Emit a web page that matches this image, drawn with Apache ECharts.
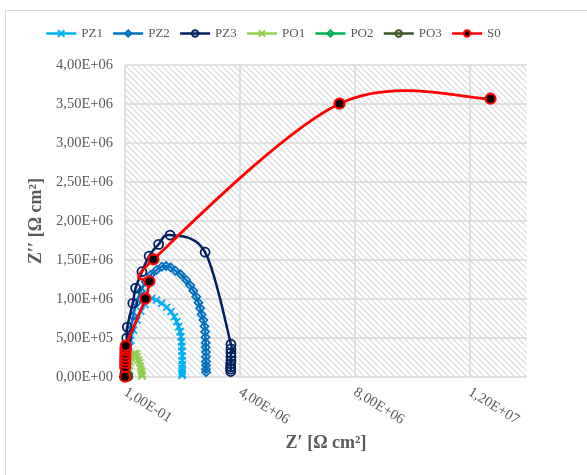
<!DOCTYPE html>
<html><head><meta charset="utf-8">
<script src="https://cdn.jsdelivr.net/npm/echarts@6/dist/echarts.min.js"></script>
<style>html,body{margin:0;padding:0;background:#fff}#c{width:587px;height:475px}</style>
</head><body><div id="c"></div>
<script>
// ---- data (values in Ω cm²) ----
const pz1X = [0.02,0.06,0.12,0.2,0.3,0.42,0.55,0.7,0.93,1.10,1.28,1.45,1.60,1.72,1.80,1.87,1.92,1.95,1.97,1.98,1.98,1.99,1.99,1.99,1.99,1.99,1.99,1.99].map(v=>v*1e6);
const pz1Y = [0.08,0.2,0.33,0.47,0.6,0.73,0.84,0.93,1.009,0.987,0.945,0.893,0.837,0.773,0.709,0.645,0.58,0.517,0.45,0.39,0.33,0.27,0.21,0.16,0.11,0.07,0.04,0.02].map(v=>v*1e6);
const pz2X = [0.02,0.05,0.1,0.18,0.28,0.4,0.55,0.72,0.9,1.10,1.28,1.43,1.59,1.75,1.94,2.13,2.27,2.38,2.48,2.56,2.62,2.67,2.73,2.77,2.79,2.80,2.81,2.81,2.82,2.82,2.82,2.82,2.82,2.82].map(v=>v*1e6);
const pz2Y = [0.1,0.25,0.42,0.6,0.78,0.95,1.1,1.22,1.31,1.372,1.414,1.423,1.406,1.363,1.317,1.244,1.175,1.107,1.03,0.953,0.88,0.80,0.73,0.65,0.58,0.51,0.44,0.38,0.32,0.26,0.2,0.15,0.1,0.06].map(v=>v*1e6);
const pz3X = [0.0,0.02,0.04,0.06,0.08,0.27,0.37,0.59,0.84,1.17,1.57,2.79,3.69,3.69,3.69,3.69,3.69,3.68,3.68,3.68,3.68].map(v=>v*1e6);
const pz3Y = [0.05,0.2,0.35,0.5,0.64,0.945,1.14,1.35,1.55,1.70,1.82,1.60,0.42,0.36,0.31,0.26,0.21,0.17,0.13,0.10,0.07].map(v=>v*1e6);
const po1X = [0.13,0.14,0.16,0.19,0.23,0.27,0.31,0.35,0.39,0.43,0.47,0.51,0.54,0.56,0.58,0.59,0.59,0.59].map(v=>v*1e6);
const po1Y = [0.02,0.08,0.14,0.19,0.24,0.28,0.30,0.30,0.29,0.26,0.22,0.18,0.14,0.10,0.07,0.04,0.02,0.01].map(v=>v*1e6);
const po2X = [0.01,0.02,0.04,0.06,0.08,0.09,0.1].map(v=>v*1e6);
const po2Y = [0.005,0.02,0.035,0.04,0.03,0.02,0.005].map(v=>v*1e6);
const po3X = [0.01,0.03,0.05,0.07,0.09,0.11,0.12].map(v=>v*1e6);
const po3Y = [0.005,0.02,0.03,0.035,0.03,0.015,0.005].map(v=>v*1e6);
const s0X = [0.0,0.005,0.008,0.01,0.012,0.015,0.018,0.02,0.025,0.71,0.85,0.99,7.47,12.73].map(v=>v*1e6);
const s0Y = [0.003,0.13,0.18,0.22,0.26,0.30,0.34,0.37,0.40,1.004,1.227,1.509,3.504,3.568].map(v=>v*1e6);

const seriesNames = ['PZ1','PZ2','PZ3','PO1','PO2','PO3','S0'];
const xTickValues = [0, 4e6, 8e6, 12e6];
const xTickLabels = ['1,00E-01','4,00E+06','8,00E+06','1,20E+07'];
const yTickValues = [0,5e5,1e6,1.5e6,2e6,2.5e6,3e6,3.5e6,4e6];
const yTickLabels = ['0,00E+00','5,00E+05','1,00E+06','1,50E+06','2,00E+06','2,50E+06','3,00E+06','3,50E+06','4,00E+06'];
const xTitle = 'Z\u2032 [\u03A9 cm\u00B2]';
const yTitle = 'Z\u2032\u2032 [\u03A9 cm\u00B2]';

const pairs = (xs, ys) => xs.map((x, i) => [x, ys[i]]);

// hatch pattern
const tile = document.createElement('canvas');
tile.width = 6; tile.height = 6;
const g = tile.getContext('2d');
g.fillStyle = '#ffffff'; g.fillRect(0,0,6,6);
g.strokeStyle = '#d9d9d9'; g.lineWidth = 1.2;
g.beginPath();
g.moveTo(-1,-1); g.lineTo(7,7);
g.moveTo(-1,5); g.lineTo(1,7);
g.moveTo(5,-1); g.lineTo(7,1);
g.stroke();

const FONT = '"Liberation Serif", "Times New Roman", serif';
const xSym = 'path://M0,0L10,10M10,0L0,10';

// markers (line hidden; curve drawn by custom series below)
function mk(name, xs, ys, color, symbol, size, z, item) {
  return {
    name, type: 'line', data: pairs(xs, ys),
    symbol, symbolSize: size, showAllSymbol: true,
    lineStyle: { color, width: 2.5, opacity: 0 },
    itemStyle: item || { color: 'rgba(0,0,0,0)', borderColor: color, borderWidth: 1.8 },
    emphasis: { disabled: true },
    z
  };
}
// smoothed curve (Catmull-Rom through axis coordinates)
function curve(name, xs, ys, color, width, z) {
  const data = pairs(xs, ys);
  return {
    name: name + ' curve', type: 'custom', data: [[0, 0]], z, silent: true, clip: true,
    renderItem: (params, api) => {
      const pts = data.map(d => api.coord(d));
      let path = 'M' + pts[0][0] + ' ' + pts[0][1];
      const n = pts.length;
      for (let i = 0; i < n - 1; i++) {
        const p0 = pts[Math.max(i - 1, 0)], p1 = pts[i], p2 = pts[i + 1], p3 = pts[Math.min(i + 2, n - 1)];
        const c1x = p1[0] + (p2[0] - p0[0]) / 6, c1y = p1[1] + (p2[1] - p0[1]) / 6;
        const c2x = p2[0] - (p3[0] - p1[0]) / 6, c2y = p2[1] - (p3[1] - p1[1]) / 6;
        path += ' C' + c1x + ' ' + c1y + ' ' + c2x + ' ' + c2y + ' ' + p2[0] + ' ' + p2[1];
      }
      return { type: 'path', shape: { pathData: path },
        style: { fill: 'none', stroke: color, lineWidth: width, lineJoin: 'round' } };
    }
  };
}

const defs = [
  ['PZ1', pz1X, pz1Y, '#00B0F0', xSym, 7],
  ['PZ2', pz2X, pz2Y, '#0070C0', 'diamond', 8],
  ['PZ3', pz3X, pz3Y, '#002060', 'circle', 9],
  ['PO1', po1X, po1Y, '#92D050', xSym, 7],
  ['PO2', po2X, po2Y, '#00B050', 'diamond', 8],
  ['PO3', po3X, po3Y, '#375623', 'circle', 8],
  ['S0', s0X, s0Y, '#FF0000', 'circle', 10]
];
const series = [];
defs.forEach((d, i) => {
  const isS0 = d[0] === 'S0';
  series.push(curve(d[0], d[1], d[2], d[3], isS0 ? 2.8 : 2.5, 2 + 2 * i));
  series.push(mk(d[0], d[1], d[2], d[3], d[4], d[5], 3 + 2 * i,
    isS0 ? { color: '#000000', borderColor: '#FF0000', borderWidth: 2.2 } : null));
});

const chart = echarts.init(document.getElementById('c'), null, { renderer: 'canvas' });
chart.setOption({
  animation: false,
  backgroundColor: '#ffffff',
  textStyle: { fontFamily: FONT },
  graphic: [{ type: 'rect', shape: { x: 5.5, y: 10.5, width: 600, height: 500 },
    style: { fill: 'none', stroke: '#d9d9d9', lineWidth: 1 }, silent: true, z: -10 }],
  legend: {
    left: 45, top: 27, padding: 0, itemWidth: 30, itemHeight: 8, itemGap: 9,
    textStyle: { fontFamily: FONT, fontSize: 13, color: '#595959' },
    data: defs.map(d => ({ name: d[0], lineStyle: { opacity: 1, width: 2.5, color: d[3] } }))
  },
  grid: { left: 125, right: 60, top: 65, bottom: 98, show: true,
    backgroundColor: { image: tile, repeat: 'repeat' }, borderWidth: 0 },
  xAxis: {
    type: 'value', min: 0, max: 14e6, interval: 4e6,
    name: xTitle, nameLocation: 'middle', nameGap: 52,
    nameTextStyle: { fontFamily: FONT, fontSize: 18, fontWeight: 'bold', color: '#595959' },
    axisLine: { show: false }, axisTick: { show: false },
    splitLine: { show: true, showMaxLine: false, lineStyle: { color: '#d9d9d9', width: 1.5 } },
    axisLabel: { rotate: -32, margin: 14, fontFamily: FONT, fontSize: 14.5, color: '#595959',
      showMaxLabel: false,
      formatter: v => { const i = xTickValues.indexOf(v); return i >= 0 ? xTickLabels[i] : ''; } }
  },
  yAxis: {
    type: 'value', min: 0, max: 4e6, interval: 5e5,
    name: yTitle, nameLocation: 'middle', nameGap: 66,
    nameTextStyle: { fontFamily: FONT, fontSize: 18, fontWeight: 'bold', color: '#595959' },
    axisLine: { show: false }, axisTick: { show: false },
    splitLine: { show: true, lineStyle: { color: '#d9d9d9', width: 1.5 } },
    axisLabel: { margin: 12, fontFamily: FONT, fontSize: 14.5, color: '#595959',
      formatter: v => { const i = yTickValues.indexOf(v); return i >= 0 ? yTickLabels[i] : ''; } }
  },
  series
});
</script>
</body></html>
